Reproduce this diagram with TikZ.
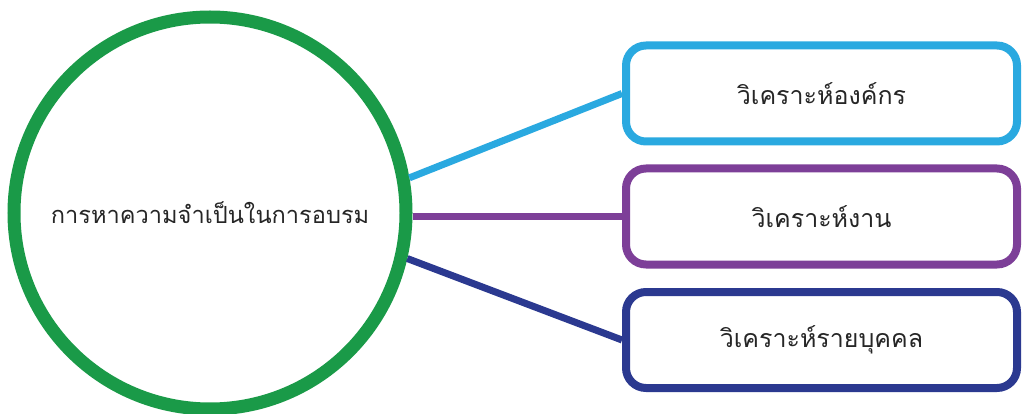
\documentclass[tikz,border=0pt]{standalone}
\usepackage{fontspec}
\newfontfamily\thaifont[Script=Thai]{Loma}
\definecolor{cgreen}{HTML}{1A9A48}
\definecolor{ccyan}{HTML}{2AA9E0}
\definecolor{cpurple}{HTML}{7D3F98}
\definecolor{cnavy}{HTML}{2B3990}
\tikzset{
  hub/.style={circle,draw=cgreen,line width=13pt,minimum size=392pt,inner sep=0pt,font=\thaifont\fontsize{23.6}{28}\selectfont,text=black!85},
  leaf/.style={rectangle,rounded corners=20pt,line width=8pt,minimum width=391pt,minimum height=96pt,fill=white,font=\thaifont\fontsize{25}{30}\selectfont,text=black!85},
  link/.style={line width=7pt}
}
\begin{document}
\begin{tikzpicture}[x=1pt,y=-1pt]
\useasboundingbox (0,0) rectangle (1022,414);
\node[hub] (c) at (210,213) {\raisebox{-3pt}{การหาความจำเป็นในการอบรม}};
\node[leaf,draw=ccyan] (b1) at (821.5,93.5) {วิเคราะห์องค์กร};
\node[leaf,draw=cpurple] (b2) at (821.5,216.5) {วิเคราะห์งาน};
\node[leaf,draw=cnavy] (b3) at (821.5,340) {วิเคราะห์รายบุคคล};
\draw[link,ccyan] (c.10) -- (b1.west);
\draw[link,cpurple] (c.east |- b2.west) -- (b2.west);
\draw[link,cnavy] (c.-13) -- (b3.west);
\end{tikzpicture}
\end{document}
